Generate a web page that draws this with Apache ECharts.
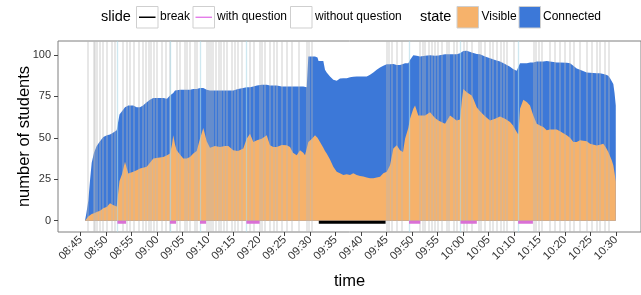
<!DOCTYPE html>
<html>
<head>
<meta charset="utf-8">
<script src="https://cdn.jsdelivr.net/npm/echarts@6/dist/echarts.min.js"></script>
<style>html,body{margin:0;padding:0;background:#fff}#chart{width:641px;height:295px}</style>
</head>
<body>
<div id="chart"></div>
<script>
// time in minutes after 08:00
const minutes = [45.84,46.14,46.49,46.82,47.16,47.61,48.14,48.79,49.43,50.16,50.75,51.34,52.06,52.41,52.61,53.10,53.69,54.34,55.32,55.98,56.63,57.22,57.95,58.59,59.24,60.16,61.20,61.93,62.52,62.91,63.16,63.50,63.83,64.48,65.13,65.79,66.44,67.09,67.75,68.40,69.05,69.72,70.36,71.34,72.32,73.31,73.95,74.93,75.86,76.89,77.56,78.21,78.86,79.58,80.50,81.49,82.13,82.78,83.45,84.43,85.41,86.06,86.64,87.37,88.02,88.66,89.00,89.33,89.65,90.37,90.96,91.45,91.65,91.94,92.59,92.92,93.25,93.90,94.55,95.22,95.86,96.51,97.18,97.83,98.47,99.14,99.79,100.43,101.10,101.75,102.40,103.06,103.71,104.36,105.02,105.67,106.32,106.99,107.63,108.22,108.62,109.26,109.59,110.24,110.58,110.91,111.22,111.56,112.54,113.52,114.50,115.15,115.48,116.46,117.44,117.83,118.75,119.40,119.74,120.05,120.39,120.72,121.03,121.70,122.01,122.68,123.32,124.31,125.29,126.27,127.25,128.23,129.21,129.80,130.52,130.84,131.17,131.82,132.15,132.54,133.13,133.78,134.45,135.09,135.74,136.41,137.06,138.37,139.02,140.33,140.98,141.63,142.29,142.94,144.25,144.90,146.22,146.86,147.51,148.04,148.49,148.83,149.16,149.47,149.71,149.95];
const connected = [0,5,12,24,35,41,45,48,50.5,51.5,52,53,54.5,55,64,66,68.5,69.5,69.5,68.5,68.5,69.5,71.5,73,74,74,74,73.5,75.5,76,77,78.5,79,79,79,79,79,79.5,79.5,80,80,79,78.5,78.5,78.5,78.5,78.5,78.5,79.5,80,80.5,80.5,81,81.5,82,82,81.5,81.5,81.5,81,81,81,81,81,81,81,80.5,80.5,99,99,99,98.5,96.4,96.4,96.4,91,89.4,87,85,84.4,85.8,86,86,86.5,86.8,87,87,87,87,88,89.4,91,92.4,93.5,94.4,94.4,94.5,94,94,94.5,95,95,97,99.8,99.5,99.5,99.5,99,99.5,99.8,99.5,99.6,100,100.4,100.4,100.4,100.4,101,101.8,102.4,103,102.5,102,101.5,101,100.5,100.4,99,98,97,96,94.5,92.8,91.5,90.4,90.4,95,95,95,95,95.5,95.5,96,96,96,96.4,96,95.5,95.5,95.3,95,93.5,91.8,91,89.4,89.2,89,89,88.5,88,87.4,86,85,82.5,77,69.5];
const visible = [0,1,2.5,3.5,4,4.5,5.2,6,7.6,8.5,10.6,9.5,8.6,9,24,28,35.5,28.5,29.5,30.5,31.5,32,32.5,35,37.5,38,38.5,39.5,40.5,46,51.5,46,42.5,40,37.5,37.5,38.5,40.5,42,49.5,56,48,44,45,44.5,45,45,42.5,42,43.5,49.5,52.5,47.5,48.5,49.5,51.5,45.5,44.5,44.5,45.7,45.5,44.5,41,39.5,42.5,41,39.5,40,47.5,49.5,51.5,50,49,47.5,44,42,40.5,37,32.6,29.6,28.6,27.6,28,27.6,28.6,27.6,27,26.6,26,25.6,25.6,26,26.5,28.6,29.5,33.5,43.5,45.5,42.5,41.5,49.5,56,61.5,67.5,69.5,69.5,63.5,62.5,63.5,65.5,62,60.5,59.5,58.5,63.5,64.5,60.5,61,72,79.5,80.5,77.5,76.5,75.5,73.5,68.5,66,63,60.5,61.5,62.8,61.5,59.5,57.5,53.5,52,67.5,73,73.5,71.5,69.5,63.5,58.5,57.5,56.5,54.5,55,55,54,51.5,50,47.5,47.5,48.5,48,46.5,45.3,45.8,46.5,44,41.5,41,36.5,33.5,29,23.6];
// slide changes (minutes after 08:00)
const slideTimes = [46.3,47.5,47.8,48.1,48.8,49.3,50.2,51.1,51.6,53.2,54.0,54.7,55.5,56.3,57.2,57.8,58.3,58.8,59.4,60.0,60.9,61.7,62.4,63.8,64.5,65.5,65.9,66.4,67.3,67.7,69.7,70.2,70.6,71.0,71.4,72.0,72.5,73.0,73.6,74.6,75.3,75.9,76.6,78.2,78.9,80.2,80.6,81.2,82.1,82.8,83.4,84.4,85.4,86.3,87.7,89.3,89.8,90.3,105.0,105.5,106.0,107.0,108.0,111.6,112.0,112.5,113.2,113.9,114.5,115.0,115.8,116.8,117.2,118.1,118.8,120.1,120.7,121.7,123.0,123.5,124.3,125.3,125.9,126.6,127.3,127.9,128.6,129.9,133.8,134.3,134.9,135.4,137.1,138.0,139.0,140.0,141.0,141.8,142.9,144.3,145.2,146.2,146.9,147.8,148.5];
const questionStarts = [52.2,62.5,68.4,77.5,109.4,119.5,130.8];
const questionEnds   = [53.9,63.7,69.6,80.1,111.6,122.7,133.7];
const breakStart = [91.7];
const breakEnd   = [104.8];
const xTicks = [45,50,55,60,65,70,75,80,85,90,95,100,105,110,115,120,125,130,135,140,145,150];
const yTicks = [0,25,50,75,100];

const FONT = '"Liberation Sans", Arial, Helvetica, sans-serif';
const BLUE = '#3c78d8', ORANGE = '#f6b26b', ORCHID = '#da70d6';
const fmt = m => { const h = 8 + Math.floor(m/60), mm = Math.round(m%60); return String(h).padStart(2,'0')+':'+String(mm).padStart(2,'0'); };

const chart = echarts.init(document.getElementById('chart'), null, {renderer:'canvas'});
const segY = -0.9;
const segSeries = (starts, ends, color, name) => starts.map((s,i) => ({
  type:'line', name, data:[[s,segY],[ends[i],segY]], symbol:'none', silent:true, z:6,
  lineStyle:{color, width:3, cap:'butt'}, animation:false
}));

const option = {
  animation:false,
  textStyle:{fontFamily:FONT},
  grid:{left:58, top:41, right:0, bottom:61, show:true, borderColor:'#7f7f7f', borderWidth:1, backgroundColor:'#fff'},
  xAxis:{
    type:'value', min:40.55, max:154.9,
    name:'time', nameLocation:'middle', nameGap:41, nameMoveOverlap:false,
    nameTextStyle:{fontSize:16.5, color:'#000', fontFamily:FONT},
    axisLine:{show:false, onZero:false},
    splitLine:{show:false},
    axisTick:{show:true, length:4, lineStyle:{color:'#444'}, customValues:xTicks},
    axisLabel:{rotate:45, fontSize:11.3, color:'#333', margin:6, fontFamily:FONT, customValues:xTicks, formatter:v=>fmt(v)}
  },
  yAxis:{
    type:'value', min:-6.8, max:108.4,
    name:'number of students', nameLocation:'middle', nameGap:25, nameMoveOverlap:false,
    nameTextStyle:{fontSize:16.5, color:'#000', fontFamily:FONT},
    axisLine:{show:false, onZero:false},
    splitLine:{show:false},
    axisTick:{show:true, length:4, lineStyle:{color:'#444'}, customValues:yTicks},
    axisLabel:{fontSize:11, color:'#333', margin:7, fontFamily:FONT, customValues:yTicks}
  },
  series:[
    {type:'line', name:'Connected', data:minutes.map((m,i)=>[m,connected[i]]), symbol:'none', z:2,
     lineStyle:{width:0, opacity:0}, areaStyle:{color:BLUE, opacity:1}},
    {type:'line', name:'Visible', data:minutes.map((m,i)=>[m,visible[i]]), symbol:'none', z:3,
     lineStyle:{width:0, opacity:0}, areaStyle:{color:ORANGE, opacity:1}},
    {type:'line', name:'slides', data:[], z:4, silent:true,
     markLine:{silent:true, symbol:['none','none'], label:{show:false}, animation:false,
       lineStyle:{color:'rgba(185,185,185,0.45)', width:1.5, type:'solid'},
       data:slideTimes.map(t=>({xAxis:t}))}},
    {type:'line', name:'qlines', data:[], z:4, silent:true,
     markLine:{silent:true, symbol:['none','none'], label:{show:false}, animation:false,
       lineStyle:{color:'rgba(173,216,230,0.6)', width:1.3, type:'solid'},
       data:questionStarts.map(t=>({xAxis:t}))}},
    ...segSeries(questionStarts, questionEnds, ORCHID, 'with question'),
    ...segSeries(breakStart, breakEnd, '#000', 'break')
  ],
  graphic:[
    {type:'text', left:101, top:9, style:{text:'slide', font:'14.5px '+FONT, fill:'#000'}},
    {type:'rect', shape:{x:136.5, y:6.5, width:21.5, height:21.5}, style:{fill:'#fff', stroke:'#cfcfcf', lineWidth:1}},
    {type:'line', shape:{x1:139, y1:17.25, x2:155.5, y2:17.25}, style:{stroke:'#000', lineWidth:1.5}},
    {type:'text', left:160, top:11, style:{text:'break', font:'12px '+FONT, fill:'#000'}},
    {type:'rect', shape:{x:193, y:6.5, width:21.5, height:21.5}, style:{fill:'#fff', stroke:'#cfcfcf', lineWidth:1}},
    {type:'line', shape:{x1:195.5, y1:17.25, x2:212, y2:17.25}, style:{stroke:'#e066e6', lineWidth:1.2}},
    {type:'text', left:217, top:11, style:{text:'with question', font:'12px '+FONT, fill:'#000'}},
    {type:'rect', shape:{x:290.5, y:6.5, width:21.5, height:21.5}, style:{fill:'#fff', stroke:'#cfcfcf', lineWidth:1}},
    {type:'text', left:315, top:11, style:{text:'without question', font:'12px '+FONT, fill:'#000'}},
    {type:'text', left:420, top:9, style:{text:'state', font:'14.5px '+FONT, fill:'#000'}},
    {type:'rect', shape:{x:457, y:6.5, width:21.5, height:21.5}, style:{fill:ORANGE, stroke:'#cfcfcf', lineWidth:1}},
    {type:'text', left:481.5, top:11, style:{text:'Visible', font:'12px '+FONT, fill:'#000'}},
    {type:'rect', shape:{x:519, y:6.5, width:21.5, height:21.5}, style:{fill:BLUE, stroke:'#cfcfcf', lineWidth:1}},
    {type:'text', left:543, top:11, style:{text:'Connected', font:'12px '+FONT, fill:'#000'}}
  ]
};
chart.setOption(option);
</script>
</body>
</html>
